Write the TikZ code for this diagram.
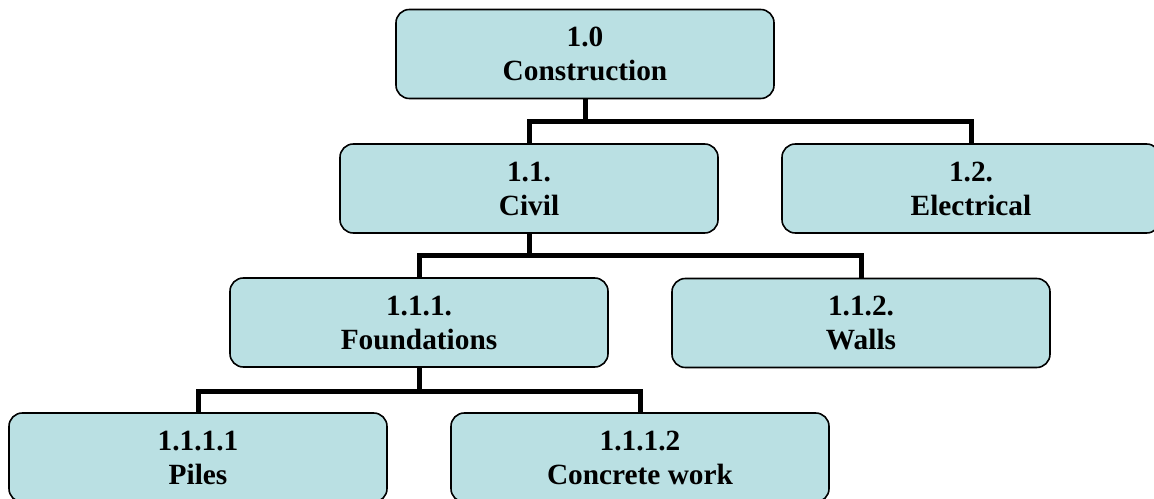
\documentclass[tikz,border=0pt]{standalone}
\usepackage{fontspec}
\setmainfont{Liberation Serif}
\usepackage{tikz}
\usetikzlibrary{positioning}
\definecolor{wbsfill}{RGB}{186,224,227}

\begin{document}
\begin{tikzpicture}[x=0.75pt, y=-0.75pt,
      every node/.style={font=\bfseries\fontsize{22}{25.5}\selectfont},
      box/.style={draw=black, fill=wbsfill, rounded corners=10pt, align=center,
                  line width=1.2pt, inner sep=0pt, minimum width=283.5pt, minimum height=66.75pt},
      link/.style={draw=black, line width=3.75pt}]
    \path[use as bounding box, clip] (0,0) rectangle (1154,499);
    \node[box] (con) at (585,54)    {1.0\\Construction};
    \node[box] (civ) at (529,188.5) {1.1.\\Civil};
    \node[box] (ele) at (971,188.5) {1.2.\\Electrical};
    \node[box] (fou) at (419,322.5) {1.1.1.\\Foundations};
    \node[box] (wal) at (861,323)   {1.1.2.\\Walls};
    \node[box] (pil) at (198,457.5) {1.1.1.1\\Piles};
    \node[box] (cnc) at (640,457.5) {1.1.1.2\\Concrete work};
    \coordinate (j1) at (585,122);
    \coordinate (j2) at (529,256);
    \coordinate (j3) at (419,391);
    \draw[link] (con) -- (j1); \draw[link] (civ.north) |- (j1) -| (ele.north);
    \draw[link] (civ) -- (j2); \draw[link] (fou.north) |- (j2) -| (wal.north);
    \draw[link] (fou) -- (j3); \draw[link] (pil.north) |- (j3) -| (cnc.north);
  \end{tikzpicture}
\end{document}
